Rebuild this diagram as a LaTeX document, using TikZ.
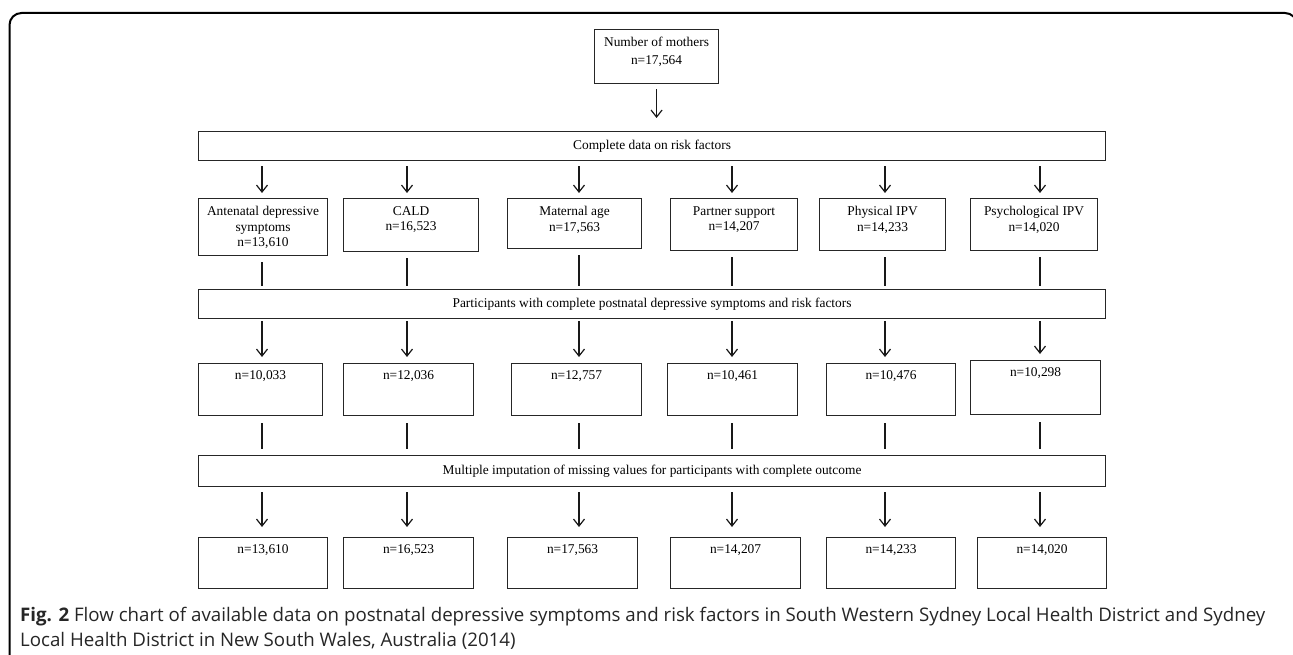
\documentclass[tikz,border=0pt]{standalone}
\usepackage{fontspec}
\setmainfont{Liberation Serif}
\newfontfamily\capfont{Open Sans}
\usetikzlibrary{arrows.meta}
\newcommand\mybox[7]{\node[box, anchor=north west] (#1) at (#2,#3)
  {\parbox[c][\dimexpr #5pt-#3pt\relax][t]{\dimexpr #4pt-#2pt\relax}{\centering\vspace*{#6pt}#7}};}
\begin{document}
\begin{tikzpicture}[x=1pt,y=-1pt,
  box/.style={draw=black!85, line width=1.1pt, inner sep=0pt, font=\fontsize{13.4}{15.5}\selectfont},
  wide/.style={box, minimum width=907pt, anchor=north west},
  arr/.style={draw=black!90, line width=1.2pt, -{Straight Barb[length=7pt,width=11pt,line width=1.2pt]}},
  ln/.style={draw=black!90, line width=1.2pt},
  frame/.style={draw=black, line width=2pt, rounded corners=12pt}]
\useasboundingbox (0,0) rectangle (1293,655);
\fill[white] (0,0) rectangle (1293,655);
\draw[frame] (9.5,660) -- (9.5,13) -- (1297,13) -- (1297,660);

% column coordinates
\coordinate (c1) at (262,0);
\coordinate (c2) at (407,0);
\coordinate (c3) at (579,0);
\coordinate (c4) at (732,0);
\coordinate (c5) at (885,0);
\coordinate (c6) at (1040,0);

\mybox{M}{594}{29}{718}{83}{8}{\baselineskip=17.5pt Number of mothers\\n=17,564}

\node[wide, minimum height=29pt] (W1) at (198,131) {Complete data on risk factors};

\mybox{A1}{198}{198}{327}{255}{8}{Antenatal depressive\\symptoms\\n=13,610}
\mybox{A2}{343}{198}{478}{251}{8}{CALD\\n=16,523}
\mybox{A3}{507}{198}{641}{248}{8}{Maternal age\\n=17,563}
\mybox{A4}{670}{198}{797}{250}{8}{Partner support\\n=14,207}
\mybox{A5}{819}{198}{945}{250}{8}{Physical IPV\\n=14,233}
\mybox{A6}{970}{198}{1097}{250}{8}{Psychological IPV\\n=14,020}

\node[wide, minimum height=29pt] (W2) at (198,289) {Participants with complete postnatal depressive symptoms and risk factors};

\mybox{B1}{198}{363}{322}{415}{7}{n=10,033}
\mybox{B2}{343}{363}{473}{415}{7}{n=12,036}
\mybox{B3}{511}{363}{641}{415}{7}{n=12,757}
\mybox{B4}{667}{363}{797}{415}{7}{n=10,461}
\mybox{B5}{826}{363}{955}{415}{7}{n=10,476}
\mybox{B6}{970}{360}{1100}{414}{7}{n=10,298}

\node[wide, minimum height=31pt] (W3) at (198,455) {Multiple imputation of missing values for participants with complete outcome};

\mybox{C1}{198}{537}{327}{588}{7}{n=13,610}
\mybox{C2}{343}{537}{473}{588}{7}{n=16,523}
\mybox{C3}{507}{537}{637}{588}{7}{n=17,563}
\mybox{C4}{670}{537}{800}{588}{7}{n=14,207}
\mybox{C5}{826}{537}{955}{588}{7}{n=14,233}
\mybox{C6}{977}{537}{1106}{588}{7}{n=14,020}

% connectors
\draw[arr, shorten <=5pt, shorten >=13pt] (M.south) -- (W1.north -| M.south);
\foreach \i in {1,...,6}{
  \draw[arr, shorten <=5pt, shorten >=5pt] (W1.south -| c\i) -- (A\i.north -| c\i);
  \draw[ln, shorten <=6pt, shorten >=3pt] (A\i.south -| c\i) -- (W2.north -| c\i);
  \draw[arr, shorten <=2pt, shorten >=6pt] (W2.south -| c\i) -- (B\i.north -| c\i);
  \draw[ln, shorten <=7pt, shorten >=6pt] (B\i.south -| c\i) -- (W3.north -| c\i);
  \draw[arr, shorten <=5pt, shorten >=10pt] (W3.south -| c\i) -- (C\i.north -| c\i);
}

% caption
\node[anchor=north west, align=left, inner sep=0pt, text=black!85,
  font=\capfont\fontsize{18.7}{24.5}\selectfont] (cap) at (20,607)
  {\textbf{Fig. 2} Flow chart of available data on postnatal depressive symptoms and risk factors in South Western Sydney Local Health District and Sydney\\
   Local Health District in New South Wales, Australia (2014)};
\end{tikzpicture}
\end{document}
